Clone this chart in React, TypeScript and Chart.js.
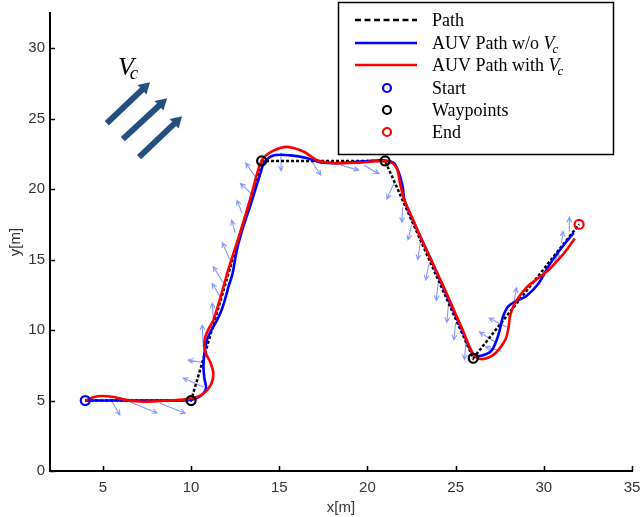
import React, { useEffect, useRef } from "react";
import { Chart, registerables } from "chart.js";

Chart.register(...registerables);

// ---------- axes ----------
const xTicks = [5, 10, 15, 20, 25, 30, 35];
const yTicks = [0, 5, 10, 15, 20, 25, 30];

// ---------- reference path ----------
const pathX = [4, 10, 14, 21, 26, 32];
const pathY = [5, 5, 22, 22, 8, 17.5];

const startX = [4];
const startY = [5];
const waypointX = [10, 14, 21, 26];
const waypointY = [5, 22, 22, 8];
const endX = [32];
const endY = [17.5];

// ---------- AUV path without current ----------
const blueX = [4, 5, 6, 7, 8, 9, 9.8, 10.3, 10.7, 10.85, 10.75, 10.7, 10.75, 10.9, 11.15, 11.47, 11.75, 11.95, 12.15, 12.35, 12.6, 12.9, 13.3, 13.65, 13.95, 14.15, 14.7, 15.64, 16.6, 17.35, 18.5, 20.0, 20.9, 21.5, 21.8, 22.0, 22.1, 22.5, 22.9, 23.6, 24.3, 24.9, 25.5, 25.8, 26.05, 26.5, 27.0, 27.3, 27.5, 27.7, 28.0, 28.5, 29.0, 29.7, 30.3, 30.8, 31.3, 31.7];
const blueY = [5, 5, 5, 5, 5, 5, 5.02, 5.15, 5.5, 5.9, 6.6, 7.5, 8.3, 9.3, 10.0, 10.7, 11.5, 12.3, 13.2, 14.0, 15.7, 17.1, 18.6, 20.0, 21.2, 21.9, 22.4, 22.4, 22.2, 21.9, 21.85, 22.0, 22.05, 21.85, 21.1, 20.15, 19.2, 18.0, 16.9, 15.0, 13.0, 11.3, 9.6, 8.7, 8.2, 8.2, 8.5, 9.2, 10.0, 11.0, 11.7, 12.1, 12.4, 13.3, 14.6, 15.5, 16.3, 16.9];

// ---------- AUV path with current ----------
const redX = [4, 4.5, 5.0, 5.6, 6.2, 6.8, 7.5, 8.5, 9.3, 9.8, 10.35, 10.8, 11.15, 11.26, 11.1, 10.85, 10.75, 10.8, 11.0, 11.26, 11.66, 12.1, 12.6, 13.0, 13.4, 13.8, 14.1, 14.7, 15.45, 16.4, 17.15, 18.1, 19.45, 20.76, 21.4, 21.7, 21.85, 22.1, 22.6, 23.0, 23.6, 24.2, 24.8, 25.4, 25.9, 26.2, 26.6, 27.1, 27.5, 27.85, 28.0, 28.1, 28.4, 29.0, 29.6, 30.3, 30.9, 31.3, 31.75];
const redY = [5, 5.25, 5.32, 5.25, 5.08, 4.95, 4.92, 4.98, 5.05, 5.1, 5.25, 5.6, 6.2, 6.9, 7.7, 8.3, 8.8, 9.5, 10.1, 10.7, 12.3, 14.25, 16.2, 17.8, 19.5, 21.35, 22.2, 22.75, 23.0, 22.65, 22.05, 21.85, 21.87, 22.0, 21.87, 21.35, 20.4, 19.2, 17.8, 16.6, 15.0, 13.4, 11.7, 10.0, 8.5, 8.05, 7.95, 8.2, 8.7, 9.4, 10.2, 11.1, 12.0, 13.0, 13.6, 14.3, 15.1, 15.7, 16.5];

// ---------- quiver (velocity) arrows: tail x, tail y, u, v ----------
const quiverX = [5.4, 6.53, 8.24, 10.69, 10.8, 10.69, 11.26, 11.77, 11.8, 12.2, 12.5, 12.9, 13.4, 13.65, 15.1, 16.8, 18.5, 19.8, 21.5, 22.0, 22.5, 23.0, 23.5, 24.0, 24.6, 25.0, 25.6, 27.3, 27.9, 27.6, 28.3, 30.6, 31.0, 31.45];
const quiverY = [5.18, 4.9, 4.8, 5.96, 7.66, 8.8, 10.85, 12.1, 13.4, 15.0, 16.9, 18.3, 19.7, 20.85, 22.6, 22.05, 21.7, 21.7, 20.4, 18.7, 17.45, 16.25, 14.75, 13.3, 11.9, 10.5, 9.3, 9.1, 10.2, 8.5, 11.9, 14.8, 16.2, 17.0];
const quiverU = [0.56, 1.54, 1.42, -1.14, -0.97, -0.06, -0.06, -0.57, -0.54, -0.43, -0.2, -0.3, -0.6, -0.55, 0.0, 0.55, 1.0, 0.85, -0.4, -0.05, -0.2, -0.15, -0.2, -0.1, -0.1, -0.1, -0.1, -0.95, -1.0, -0.9, 0.15, 0.25, 0.1, 0.0];
const quiverV = [-1.2, -0.78, -0.7, 0.64, 0.21, 1.56, 1.05, 1.2, 1.1, 1.2, 0.9, 0.9, 0.7, 1.0, -1.3, -1.05, -0.35, -0.6, -1.1, -1.05, -1.05, -1.25, -1.2, -1.2, -1.35, -1.2, -1.4, 0.76, 0.65, 0.3, 1.1, 0.7, 0.8, 1.0];

// ---------- current (Vc) annotation ----------
const currentTailX = [5.22, 6.13, 7.05];
const currentTailY = [24.68, 23.55, 22.27];
const currentTipX = [7.67, 8.64, 9.49];
const currentTipY = [27.59, 26.45, 25.18];
const currentLabelX = 5.85;
const currentLabelY = 28.1;

// ---------- legend ----------
const legendLabels = ["Path", "AUV Path w/o ", "AUV Path with ", "Start", "Waypoints", "End"];

const toPts = (xs: number[], ys: number[]) => xs.map((v, i) => ({ x: v, y: ys[i] }));

const SERIF = "'Liberation Serif', 'Times New Roman', serif";
const SANS = "'Liberation Sans', Arial, sans-serif";

const overlayPlugin = {
  id: "overlay",
  beforeDatasetsDraw(chart: any) {
    const { ctx, scales } = chart;
    const xs = scales.x;
    const ys = scales.y;
    ctx.save();
    ctx.strokeStyle = "rgba(70, 95, 255, 0.65)";
    ctx.lineWidth = 1.1;
    for (let i = 0; i < quiverX.length; i++) {
      const x0 = xs.getPixelForValue(quiverX[i]);
      const y0 = ys.getPixelForValue(quiverY[i]);
      const x1 = xs.getPixelForValue(quiverX[i] + quiverU[i]);
      const y1 = ys.getPixelForValue(quiverY[i] + quiverV[i]);
      const a = Math.atan2(y1 - y0, x1 - x0);
      const h = 5.5;
      ctx.beginPath();
      ctx.moveTo(x0, y0);
      ctx.lineTo(x1, y1);
      ctx.moveTo(x1 - h * Math.cos(a - 0.45), y1 - h * Math.sin(a - 0.45));
      ctx.lineTo(x1, y1);
      ctx.lineTo(x1 - h * Math.cos(a + 0.45), y1 - h * Math.sin(a + 0.45));
      ctx.stroke();
    }
    ctx.restore();
  },
  afterDraw(chart: any) {
    const { ctx, scales, chartArea } = chart;
    const xs = scales.x;
    const ys = scales.y;
    ctx.save();
    // inward ticks
    ctx.strokeStyle = "#000";
    ctx.lineWidth = 1.5;
    ctx.beginPath();
    xTicks.forEach((v) => {
      const p = Math.round(xs.getPixelForValue(v)) + 0.5;
      ctx.moveTo(p, chartArea.bottom);
      ctx.lineTo(p, chartArea.bottom - 5);
    });
    yTicks.forEach((v) => {
      const p = Math.round(ys.getPixelForValue(v)) + 0.5;
      ctx.moveTo(chartArea.left, p);
      ctx.lineTo(chartArea.left + 5, p);
    });
    ctx.stroke();

    // current arrows
    ctx.fillStyle = "#244f80";
    ctx.strokeStyle = "#244f80";
    for (let i = 0; i < currentTailX.length; i++) {
      const x0 = xs.getPixelForValue(currentTailX[i]);
      const y0 = ys.getPixelForValue(currentTailY[i]);
      const x1 = xs.getPixelForValue(currentTipX[i]);
      const y1 = ys.getPixelForValue(currentTipY[i]);
      const len = Math.hypot(x1 - x0, y1 - y0);
      const ux = (x1 - x0) / len;
      const uy = (y1 - y0) / len;
      const hl = 11;
      const hw = 6.5;
      const bx = x1 - ux * hl;
      const by = y1 - uy * hl;
      ctx.lineWidth = 6;
      ctx.lineCap = "butt";
      ctx.beginPath();
      ctx.moveTo(x0, y0);
      ctx.lineTo(bx + ux, by + uy);
      ctx.stroke();
      ctx.beginPath();
      ctx.moveTo(x1, y1);
      ctx.lineTo(bx - uy * hw, by + ux * hw);
      ctx.lineTo(bx + uy * hw, by - ux * hw);
      ctx.closePath();
      ctx.fill();
    }
    // Vc label
    const lx = xs.getPixelForValue(currentLabelX);
    const ly = ys.getPixelForValue(currentLabelY);
    ctx.fillStyle = "#000";
    ctx.textAlign = "left";
    ctx.textBaseline = "alphabetic";
    ctx.font = `italic 26px ${SERIF}`;
    ctx.fillText("V", lx, ly);
    const vw = ctx.measureText("V").width;
    ctx.font = `italic 19px ${SERIF}`;
    ctx.fillText("c", lx + vw - 4, ly + 4);

    // legend
    const L = 338.5, T = 2.5, W = 275, H = 152;
    ctx.fillStyle = "#fff";
    ctx.fillRect(L, T, W, H);
    ctx.strokeStyle = "#000";
    ctx.lineWidth = 1.5;
    ctx.strokeRect(L, T, W, H);
    const rows = [20, 43, 65, 88, 110, 132];
    const lx0 = 355, lx1 = 417, tx = 432, cx = 387;
    // Path
    ctx.lineWidth = 2.5;
    ctx.setLineDash([6, 3.5]);
    ctx.beginPath();
    ctx.moveTo(lx0, rows[0]);
    ctx.lineTo(lx1, rows[0]);
    ctx.stroke();
    ctx.setLineDash([]);
    ctx.strokeStyle = "#0000ff";
    ctx.beginPath();
    ctx.moveTo(lx0, rows[1]);
    ctx.lineTo(lx1, rows[1]);
    ctx.stroke();
    ctx.strokeStyle = "#ff0000";
    ctx.beginPath();
    ctx.moveTo(lx0, rows[2]);
    ctx.lineTo(lx1, rows[2]);
    ctx.stroke();
    const circ = (y: number, c: string) => {
      ctx.strokeStyle = c;
      ctx.lineWidth = 2.2;
      ctx.beginPath();
      ctx.arc(cx, y, 4, 0, Math.PI * 2);
      ctx.stroke();
    };
    circ(rows[3], "#0000ff");
    circ(rows[4], "#000000");
    circ(rows[5], "#ff0000");
    ctx.fillStyle = "#000";
    legendLabels.forEach((t, i) => {
      const by = rows[i] + 6;
      ctx.font = `18px ${SERIF}`;
      ctx.fillText(t, tx, by);
      if (i === 1 || i === 2) {
        const w = ctx.measureText(t).width;
        ctx.font = `italic 18px ${SERIF}`;
        ctx.fillText("V", tx + w, by);
        const w2 = ctx.measureText("V").width;
        ctx.font = `italic 13px ${SERIF}`;
        ctx.fillText("c", tx + w + w2 - 2, by + 4);
      }
    });
    ctx.restore();
  },
};

export default function App() {
  const ref = useRef<HTMLCanvasElement>(null);
  useEffect(() => {
    document.body.style.margin = "0";
    const pointSet = (label: string, xs: number[], ys: number[], color: string) => ({
      label,
      data: toPts(xs, ys),
      showLine: false,
      pointRadius: 4.5,
      pointBorderWidth: 2.2,
      pointBorderColor: color,
      pointBackgroundColor: "rgba(0,0,0,0)",
    });
    const chart = new Chart(ref.current as HTMLCanvasElement, {
      type: "scatter",
      data: {
        datasets: [
          pointSet("End", endX, endY, "#ff0000"),
          pointSet("Waypoints", waypointX, waypointY, "#000000"),
          pointSet("Start", startX, startY, "#0000ff"),
          {
            label: "AUV Path with Vc",
            data: toPts(redX, redY),
            showLine: true,
            borderColor: "#ff0000",
            borderWidth: 2.6,
            pointRadius: 0,
            tension: 0.3,
          },
          {
            label: "AUV Path w/o Vc",
            data: toPts(blueX, blueY),
            showLine: true,
            borderColor: "#0000ff",
            borderWidth: 2.6,
            pointRadius: 0,
            tension: 0.3,
          },
          {
            label: "Path",
            data: toPts(pathX, pathY),
            showLine: true,
            borderColor: "#000000",
            borderWidth: 2.5,
            borderDash: [3, 2],
            pointRadius: 0,
            tension: 0,
          },
        ],
      } as any,
      options: {
        responsive: false,
        animation: false,
        events: [],
        layout: { padding: { top: 13, right: 8, left: 0, bottom: 0 } },
        plugins: { legend: { display: false }, tooltip: { enabled: false } },
        scales: {
          x: {
            type: "linear",
            min: 2,
            max: 35,
            afterBuildTicks: (s: any) => {
              s.ticks = xTicks.map((v) => ({ value: v }));
            },
            afterFit: (s: any) => {
              s.height = 46;
              s.paddingLeft = 0;
              s.paddingRight = 0;
            },
            grid: { display: false, drawTicks: false },
            border: { display: true, color: "#000", width: 2 },
            ticks: { color: "#333", font: { family: SANS, size: 15 }, padding: 8, maxRotation: 0, autoSkip: false },
            title: { display: true, text: "x[m]", color: "#333", font: { family: SANS, size: 15 }, padding: { top: 0, bottom: 0 } },
          },
          y: {
            type: "linear",
            min: 0,
            max: 32.5,
            afterBuildTicks: (s: any) => {
              s.ticks = yTicks.map((v) => ({ value: v }));
            },
            afterFit: (s: any) => {
              s.width = 50;
              s.paddingTop = 0;
              s.paddingBottom = 0;
            },
            grid: { display: false, drawTicks: false },
            border: { display: true, color: "#000", width: 2 },
            ticks: { color: "#333", font: { family: SANS, size: 15 }, padding: 5, autoSkip: false },
            title: { display: true, text: "y[m]", color: "#333", font: { family: SANS, size: 15 }, padding: { top: 7, bottom: 0 } },
          },
        },
      } as any,
      plugins: [overlayPlugin],
    });
    return () => chart.destroy();
  }, []);
  return (
    <div style={{ position: "absolute", left: 0, top: 0, width: 640, height: 517, background: "#fff" }}>
      <canvas ref={ref} width={640} height={517} style={{ display: "block", width: 640, height: 517 }} />
    </div>
  );
}
